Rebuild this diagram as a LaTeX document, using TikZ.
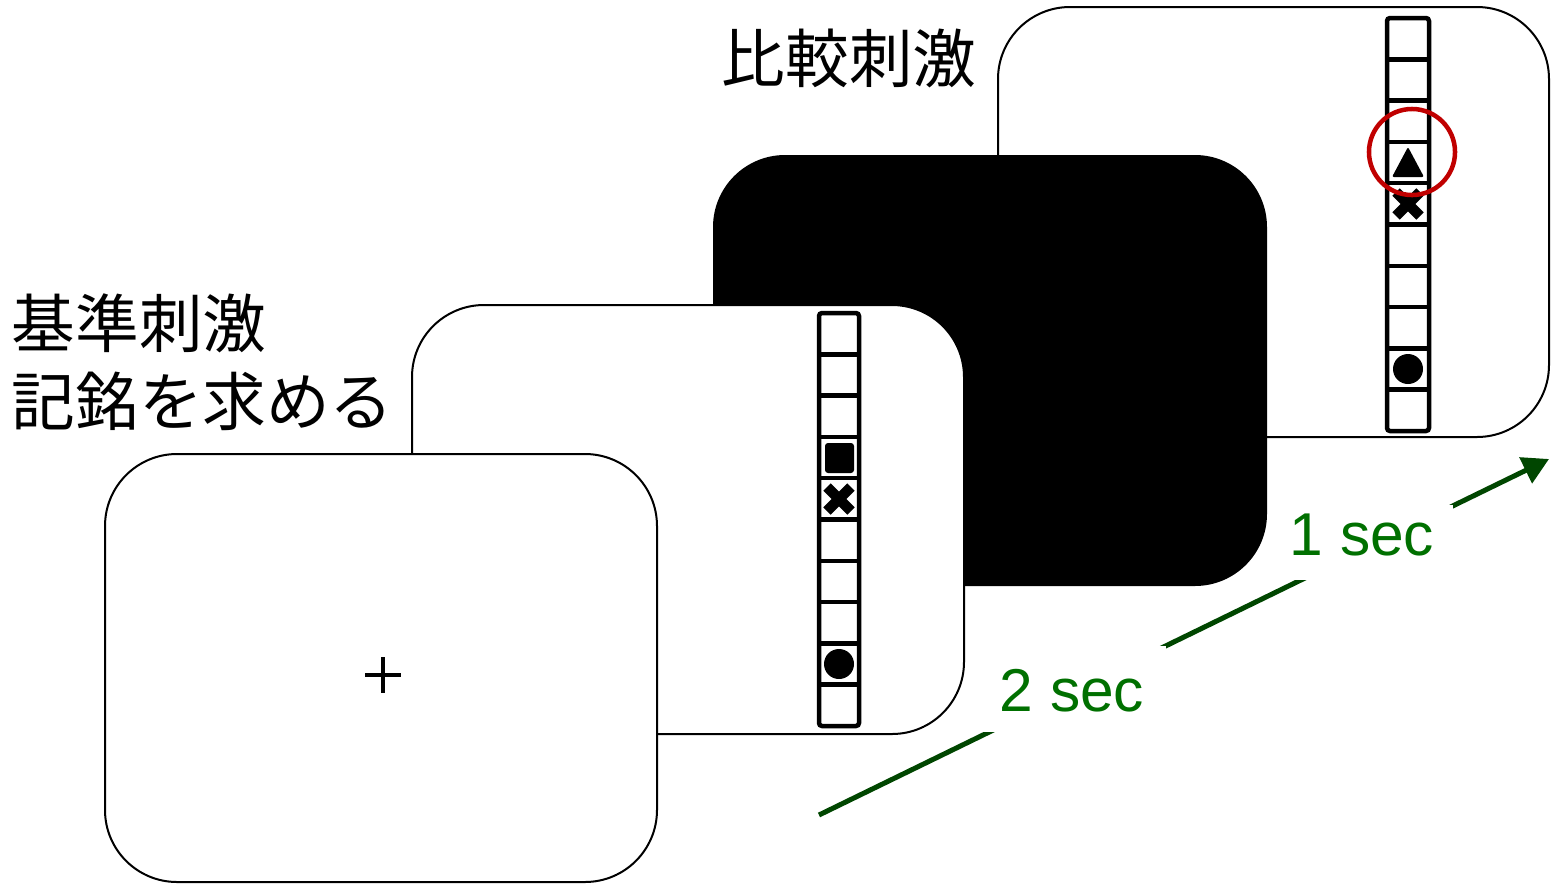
\documentclass[tikz,border=0pt]{standalone}
\usepackage{fontspec}
\setmainfont{Liberation Sans}
\newfontfamily\jpfont{Noto Sans CJK JP}
\usetikzlibrary{arrows.meta}
\definecolor{arrowgreen}{RGB}{0,70,0}
\definecolor{textgreen}{RGB}{0,112,0}
\definecolor{circlered}{RGB}{192,0,0}
\tikzset{
  card/.style={draw=black, line width=0.02cm, fill=white, rounded corners=0.72cm},
  blackcard/.style={fill=black, rounded corners=0.72cm},
  cellline/.style={draw=black, line width=0.045cm},
  xmark/.style={line width=0.105cm},
  jplabel/.style={font=\jpfont\fontsize{18.1pt}{22.2pt}\selectfont, inner sep=0pt, align=left},
  seclabel/.style={font=\fontsize{17.2pt}{21pt}\selectfont, text=textgreen, fill=white, inner ysep=0pt, inner xsep=0.22cm, anchor=base},
  timearrow/.style={draw=arrowgreen, line width=0.05cm, -{Triangle[length=0.26cm, width=0.28cm]}}
}
\begin{document}
\begin{tikzpicture}[x=0.01cm, y=-0.01cm]
\useasboundingbox (0,0) rectangle (1551,884);
% comparison card (back)
\draw[card] (998,7) rectangle (1549,437);
\draw[cellline, rounded corners=0.03cm] (1387,18) rectangle (1429,431);
\foreach \i in {1,...,9} \draw[cellline] (1387,{18+41.3*\i}) -- (1429,{18+41.3*\i});
\fill[rounded corners=0.02cm] (1408,147) -- (1424,177) -- (1392,177) -- cycle;
\draw[xmark] (1396,192) -- (1420,216) (1396,216) -- (1420,192);
\fill (1408,369) circle (0.15cm);
\draw[circlered, line width=0.045cm] (1412,152) circle (0.43cm);
% blank card
\fill[blackcard] (713,155) rectangle (1267,586);
% standard card
\draw[card] (412,305) rectangle (964,734);
\draw[cellline, rounded corners=0.03cm] (819,313) rectangle (859,726);
\foreach \i in {1,...,9} \draw[cellline] (819,{313+41.3*\i}) -- (859,{313+41.3*\i});
\fill[rounded corners=0.03cm] (825,443) rectangle (854,473);
\draw[xmark] (827,487) -- (851,511) (827,511) -- (851,487);
\fill (839,664) circle (0.15cm);
% fixation card
\draw[card] (105,454) rectangle (657,882);
\draw[line width=0.04cm] (365,675) -- (401,675) (383,657) -- (383,693);
% time arrow
\coordinate (tstart) at (819,815);
\coordinate (tend) at (1549,459);
\draw[timearrow] (tstart) -- (tend);
\node[seclabel, text height=0.65cm, text depth=0.21cm] (sec2) at (1072,711) {2 sec};
\node[seclabel, inner xsep=0.19cm, text height=0.50cm, text depth=0.25cm] (sec1) at (1362,555) {1 sec};
% labels
\node[jplabel, anchor=north west] (std) at (11,293) {基準刺激\\記銘を求める};
\node[jplabel, anchor=north west] (cmp) at (721,28) {比較刺激};
\end{tikzpicture}
\end{document}
